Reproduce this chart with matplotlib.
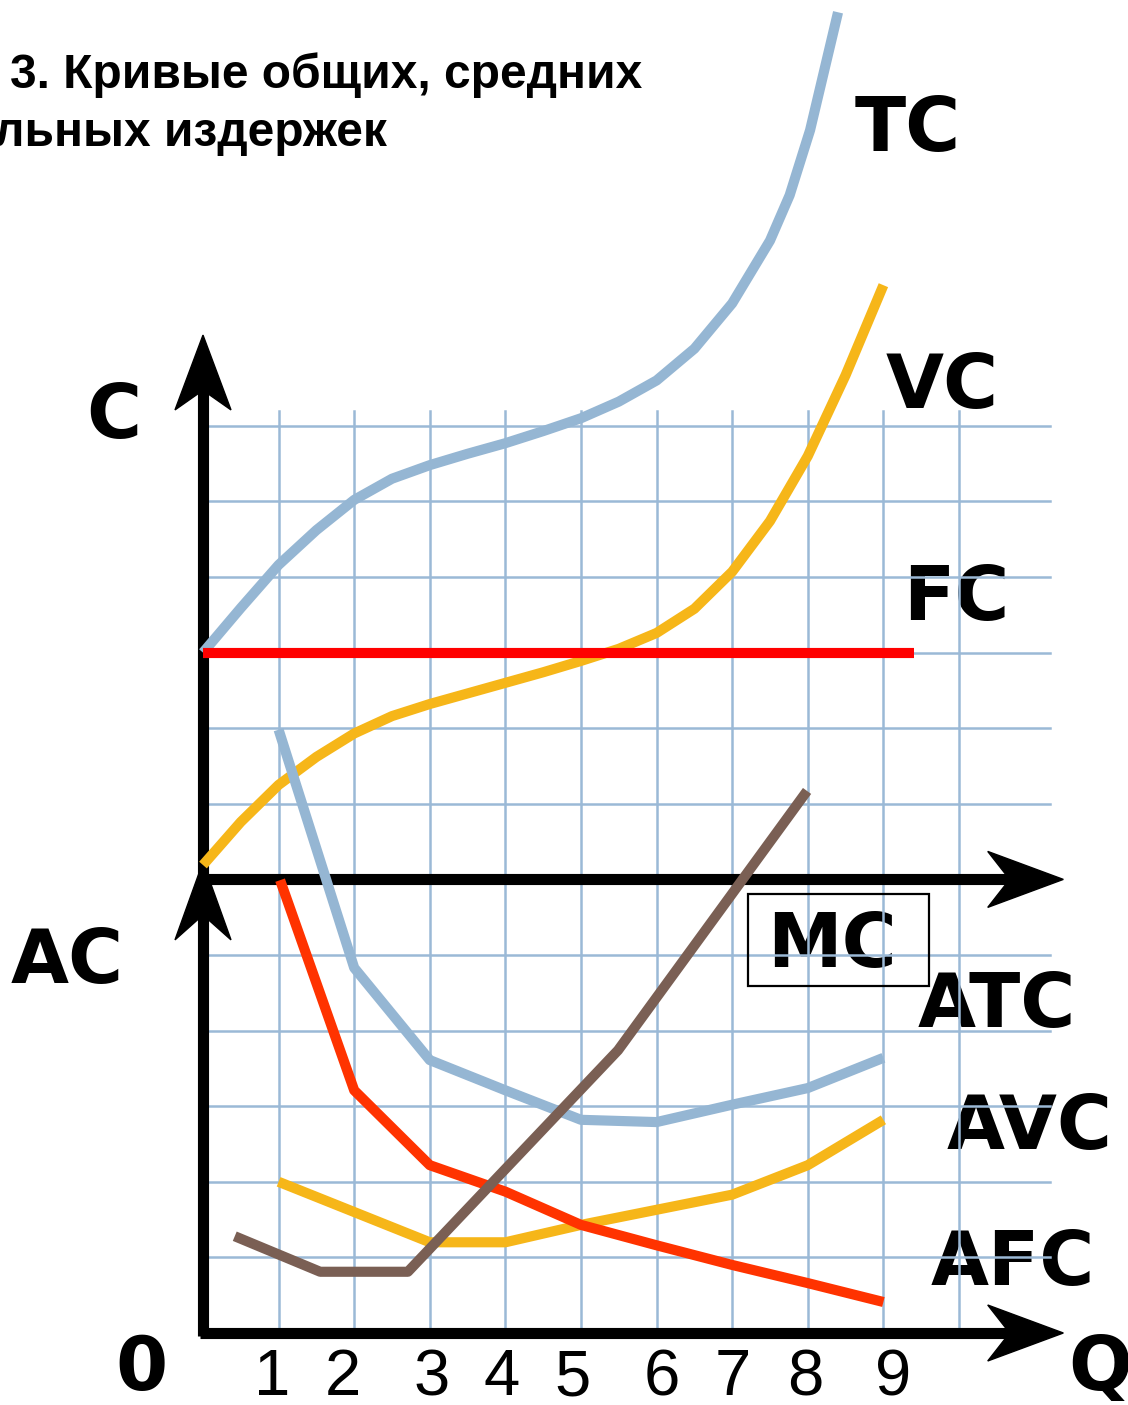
import numpy as np
import matplotlib
matplotlib.use("Agg")
import matplotlib.pyplot as plt
from matplotlib.patches import Polygon, Rectangle

# ---- data (Q on x, cost in grid cells on y; upper panel sits on y=6) ----
q_tc = [0, 0.5, 1, 1.5, 2, 2.5, 3, 3.5, 4, 4.5, 5, 5.5, 6, 6.5, 7, 7.5, 7.76, 8.03, 8.40]
tc = [9.0, 9.59, 10.16, 10.62, 11.02, 11.30, 11.48, 11.63, 11.77, 11.93,
      12.10, 12.32, 12.60, 13.02, 13.62, 14.45, 15.05, 15.91, 17.47]

q_vc = [0, 0.5, 1, 1.5, 2, 2.5, 3, 3.5, 4, 4.5, 5, 5.5, 6, 6.5, 7, 7.5, 8, 8.5, 9]
vc = [6.19, 6.76, 7.25, 7.62, 7.93, 8.16, 8.32, 8.46, 8.60, 8.74, 8.89,
      9.05, 9.26, 9.58, 10.07, 10.74, 11.60, 12.67, 13.86]

q_fc = [0, 9.4]
fc = [9.0, 9.0]

q_atc = [1, 2, 3, 4, 5, 6, 7, 8, 9]
atc = [7.98, 4.83, 3.61, 3.21, 2.82, 2.79, 3.02, 3.24, 3.64]

q_avc = [1, 3, 4, 5, 6, 7, 8, 9]
avc = [2.0, 1.2, 1.2, 1.43, 1.63, 1.83, 2.22, 2.82]

q_afc = [1.02, 2, 3, 4, 5, 6, 7, 8, 9]
afc = [5.99, 3.21, 2.22, 1.87, 1.43, 1.16, 0.90, 0.66, 0.41]

q_mc = [0.42, 1.55, 2.71, 5.49, 7.99]
mc = [1.28, 0.81, 0.81, 3.74, 7.17]

q_ticks = ["1", "2", "3", "4", "5", "6", "7", "8", "9"]

# pixel helpers for placing text (1 grid cell = 75.6 px)
U = 75.6
def X(px):
    return (px - 203) / U
def Y(py):
    return (1333 - py) / U

fig = plt.figure(figsize=(11.28, 14.05), dpi=100)
ax = fig.add_axes([0, 0, 1, 1])
ax.set_xlim(X(0), X(1128))
ax.set_ylim(Y(1405), Y(0))
ax.axis("off")

grid_c = "#9bb9d6"
# grid
for gx in range(1, 11):
    ax.plot([gx, gx], [0, 12.2], color=grid_c, lw=1.8, zorder=2)
for gy in range(1, 13):
    if gy == 6:
        continue
    ax.plot([0, 11.2], [gy, gy], color=grid_c, lw=1.8, zorder=2)

# axes
ax_lw = 8
ax.plot([0, 0], [-0.04, 12.5], color="black", lw=ax_lw, solid_capstyle="butt", zorder=4)
ax.plot([-0.04, 10.7], [0, 0], color="black", lw=ax_lw, solid_capstyle="butt", zorder=4)
ax.plot([0, 10.7], [6, 6], color="black", lw=ax_lw, solid_capstyle="butt", zorder=4)

hw = 28 / U
for yy in [0, 6]:
    ax.add_patch(Polygon([[11.38, yy], [10.38, yy + hw], [10.67, yy], [10.38, yy - hw]],
                         closed=True, color="black", zorder=4))
for tip, barb, notch in [(13.2, 12.21, 12.47), (6.23, 5.2, 5.53)]:
    ax.add_patch(Polygon([[0, tip], [hw, barb], [0, notch], [-hw, barb]],
                         closed=True, color="black", zorder=4))

# curves
lw = 7.3
kw = dict(lw=lw, solid_capstyle="butt", solid_joinstyle="round", zorder=5)
ax.plot(q_tc, tc, color="#95b6d3", **kw)
ax.plot(q_vc, vc, color="#f6b619", **kw)
ax.plot(q_fc, fc, color="#ff0000", **kw)
ax.plot(q_atc, atc, color="#95b6d3", **kw)
ax.plot(q_avc, avc, color="#f6b619", **kw)
ax.plot(q_afc, afc, color="#ff3300", **kw)
ax.plot(q_mc, mc, color="#7a5f54", **kw)

# labels
big = dict(fontsize=54, fontweight="bold", family="DejaVu Sans",
           ha="left", va="baseline", zorder=1)
ax.text(X(855), Y(151), "TC", **big)
ax.text(X(886), Y(408), "VC", **big)
ax.text(X(903), Y(620), "FC", **big)
ax.text(X(767), Y(967), "MC", **big)
ax.text(X(918), Y(1027), "ATC", **big)
ax.text(X(947), Y(1149), "AVC", **big)
ax.text(X(931), Y(1285), "AFC", **big)
ax.text(X(11), Y(983), "AC", **big)
ax.text(X(86), Y(438), "C", **big)
ax.text(X(115), Y(1390), "0", **big)
ax.text(X(1068), Y(1390), "Q", **big)

ax.add_patch(Rectangle((X(748), Y(986)), (929 - 748) / U, (986 - 894) / U,
                       fill=False, ec="black", lw=1.6, zorder=3))

tick_px = [272, 343, 432, 502, 573, 662, 733, 805, 893]
for lab, px in zip(q_ticks, tick_px):
    ax.text(X(px), Y(1395), lab, fontsize=47, family="Liberation Sans",
            ha="center", va="baseline", zorder=1)

ax.text(X(10), Y(88), "3. Кривые общих, средних", fontsize=34.5, fontweight="bold",
        family="Liberation Sans", ha="left", va="baseline")
ax.text(X(-6), Y(146), "льных издержек", fontsize=34.5, fontweight="bold",
        family="Liberation Sans", ha="left", va="baseline")

fig.savefig("out.png", dpi=100)
